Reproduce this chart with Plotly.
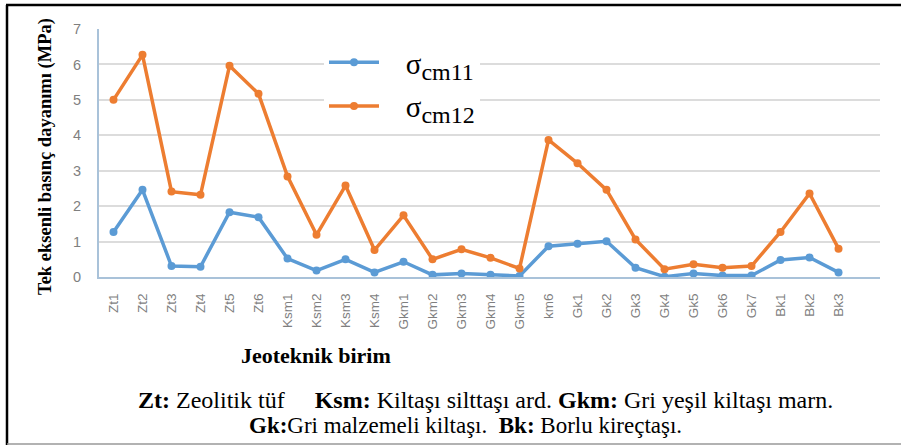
import plotly.graph_objects as go

categories = ["Zt1", "Zt2", "Zt3", "Zt4", "Zt5", "Zt6",
              "Ksm1", "Ksm2", "Ksm3", "Ksm4",
              "Gkm1", "Gkm2", "Gkm3", "Gkm4", "Gkm5", "km6",
              "Gk1", "Gk2", "Gk3", "Gk4", "Gk5", "Gk6", "Gk7",
              "Bk1", "Bk2", "Bk3"]

sigma_cm11 = [1.27, 2.46, 0.31, 0.29, 1.83, 1.69,
              0.52, 0.18, 0.50, 0.13,
              0.43, 0.06, 0.10, 0.06, 0.03, 0.87,
              0.94, 1.01, 0.26, 0.01, 0.10, 0.04, 0.04,
              0.48, 0.55, 0.13]

sigma_cm12 = [5.00, 6.27, 2.41, 2.32, 5.96, 5.17,
              2.84, 1.19, 2.58, 0.76,
              1.74, 0.50, 0.78, 0.54, 0.24, 3.87,
              3.21, 2.46, 1.06, 0.22, 0.36, 0.26, 0.31,
              1.27, 2.36, 0.80]

y_ticks = [0, 1, 2, 3, 4, 5, 6, 7]

W, H = 901, 446
L, R, T, B = 99, 21, 29, 169
PW, PH = W - L - R, H - T - B


def px(x):
    return (x - L) / PW


def py(y):
    return (H - B - y) / PH


serif = "Liberation Serif"
sans = "Liberation Sans"
NB = "\u00a0\u00a0\u00a0"


def legend_name(sub):
    return NB + "σ<sub><span style='font-size:24px'>" + sub + "</span></sub>"


fig = go.Figure()
fig.add_trace(go.Scatter(
    x=categories, y=sigma_cm11, mode="lines+markers",
    name=legend_name("cm11"), legendgroup="a",
    line=dict(color="#5B9BD5", width=3.5),
    marker=dict(color="#5B9BD5", size=8, symbol="circle"),
))
fig.add_trace(go.Scatter(
    x=categories, y=sigma_cm12, mode="lines+markers",
    name=legend_name("cm12"), legendgroup="b",
    line=dict(color="#ED7D31", width=3.5),
    marker=dict(color="#ED7D31", size=8, symbol="circle"),
))

fig.update_layout(
    width=W, height=H,
    margin=dict(l=L, r=R, t=T, b=B, autoexpand=False),
    paper_bgcolor="white", plot_bgcolor="white",
    showlegend=True,
    legend=dict(
        x=px(324), y=py(37), xanchor="left", yanchor="top",
        bgcolor="white", borderwidth=0,
        font=dict(family=serif, size=29, color="black"),
        itemwidth=50, tracegroupgap=3, traceorder="grouped",
    ),
    xaxis=dict(
        type="category", range=[-0.5, 26.43],
        showgrid=False, showline=True, linecolor="#a9c2d9", linewidth=2,
        ticks="", tickangle=-90, ticklabelstandoff=9,
        tickfont=dict(family=sans, size=13.5, color="#7f7f7f"),
        zeroline=False, fixedrange=True,
    ),
    yaxis=dict(
        range=[0, 7], tickvals=y_ticks, ticktext=[str(v) for v in y_ticks],
        showgrid=True, gridcolor="#dcdcdc", gridwidth=1.5,
        showline=True, linecolor="#a9c2d9", linewidth=2,
        ticks="", ticklabelstandoff=13,
        tickfont=dict(family=sans, size=14.5, color="#7f7f7f"),
        zeroline=False, fixedrange=True,
    ),
)

annotations = [
    dict(text="<b>Tek eksenli basınç dayanımı (MPa)</b>", x=px(45), y=py(157),
         textangle=-90, font=dict(family=serif, size=18.5, color="black")),
    dict(text="<b>Jeoteknik birim</b>", x=px(316), y=py(355),
         font=dict(family=serif, size=22, color="black")),
    dict(text="<b>Zt:</b> Zeolitik tüf     <b>Ksm:</b> Kiltaşı silttaşı ard. <b>Gkm:</b> Gri yeşil kiltaşı marn.",
         x=px(485), y=py(400), font=dict(family=serif, size=24, color="black")),
    dict(text="<b>Gk:</b>Gri malzemeli kiltaşı.  <b>Bk:</b> Borlu kireçtaşı.",
         x=px(465), y=py(425), font=dict(family=serif, size=23, color="black")),
]
for a in annotations:
    a.update(xref="paper", yref="paper", showarrow=False, xanchor="center", yanchor="middle")
fig.update_layout(annotations=annotations)

fig.update_layout(shapes=[
    dict(type="line", xref="paper", yref="paper", x0=px(6), x1=px(901), y0=py(5), y1=py(5),
         line=dict(color="black", width=2.5)),
    dict(type="line", xref="paper", yref="paper", x0=px(7), x1=px(7), y0=py(5), y1=py(445),
         line=dict(color="black", width=2.5)),
    dict(type="line", xref="paper", yref="paper", x0=px(7), x1=px(901), y0=py(444), y1=py(444),
         line=dict(color="#999999", width=1.5)),
])

fig.write_html("out.html", config={"displayModeBar": False},
               post_script="document.body.style.margin='0';")
